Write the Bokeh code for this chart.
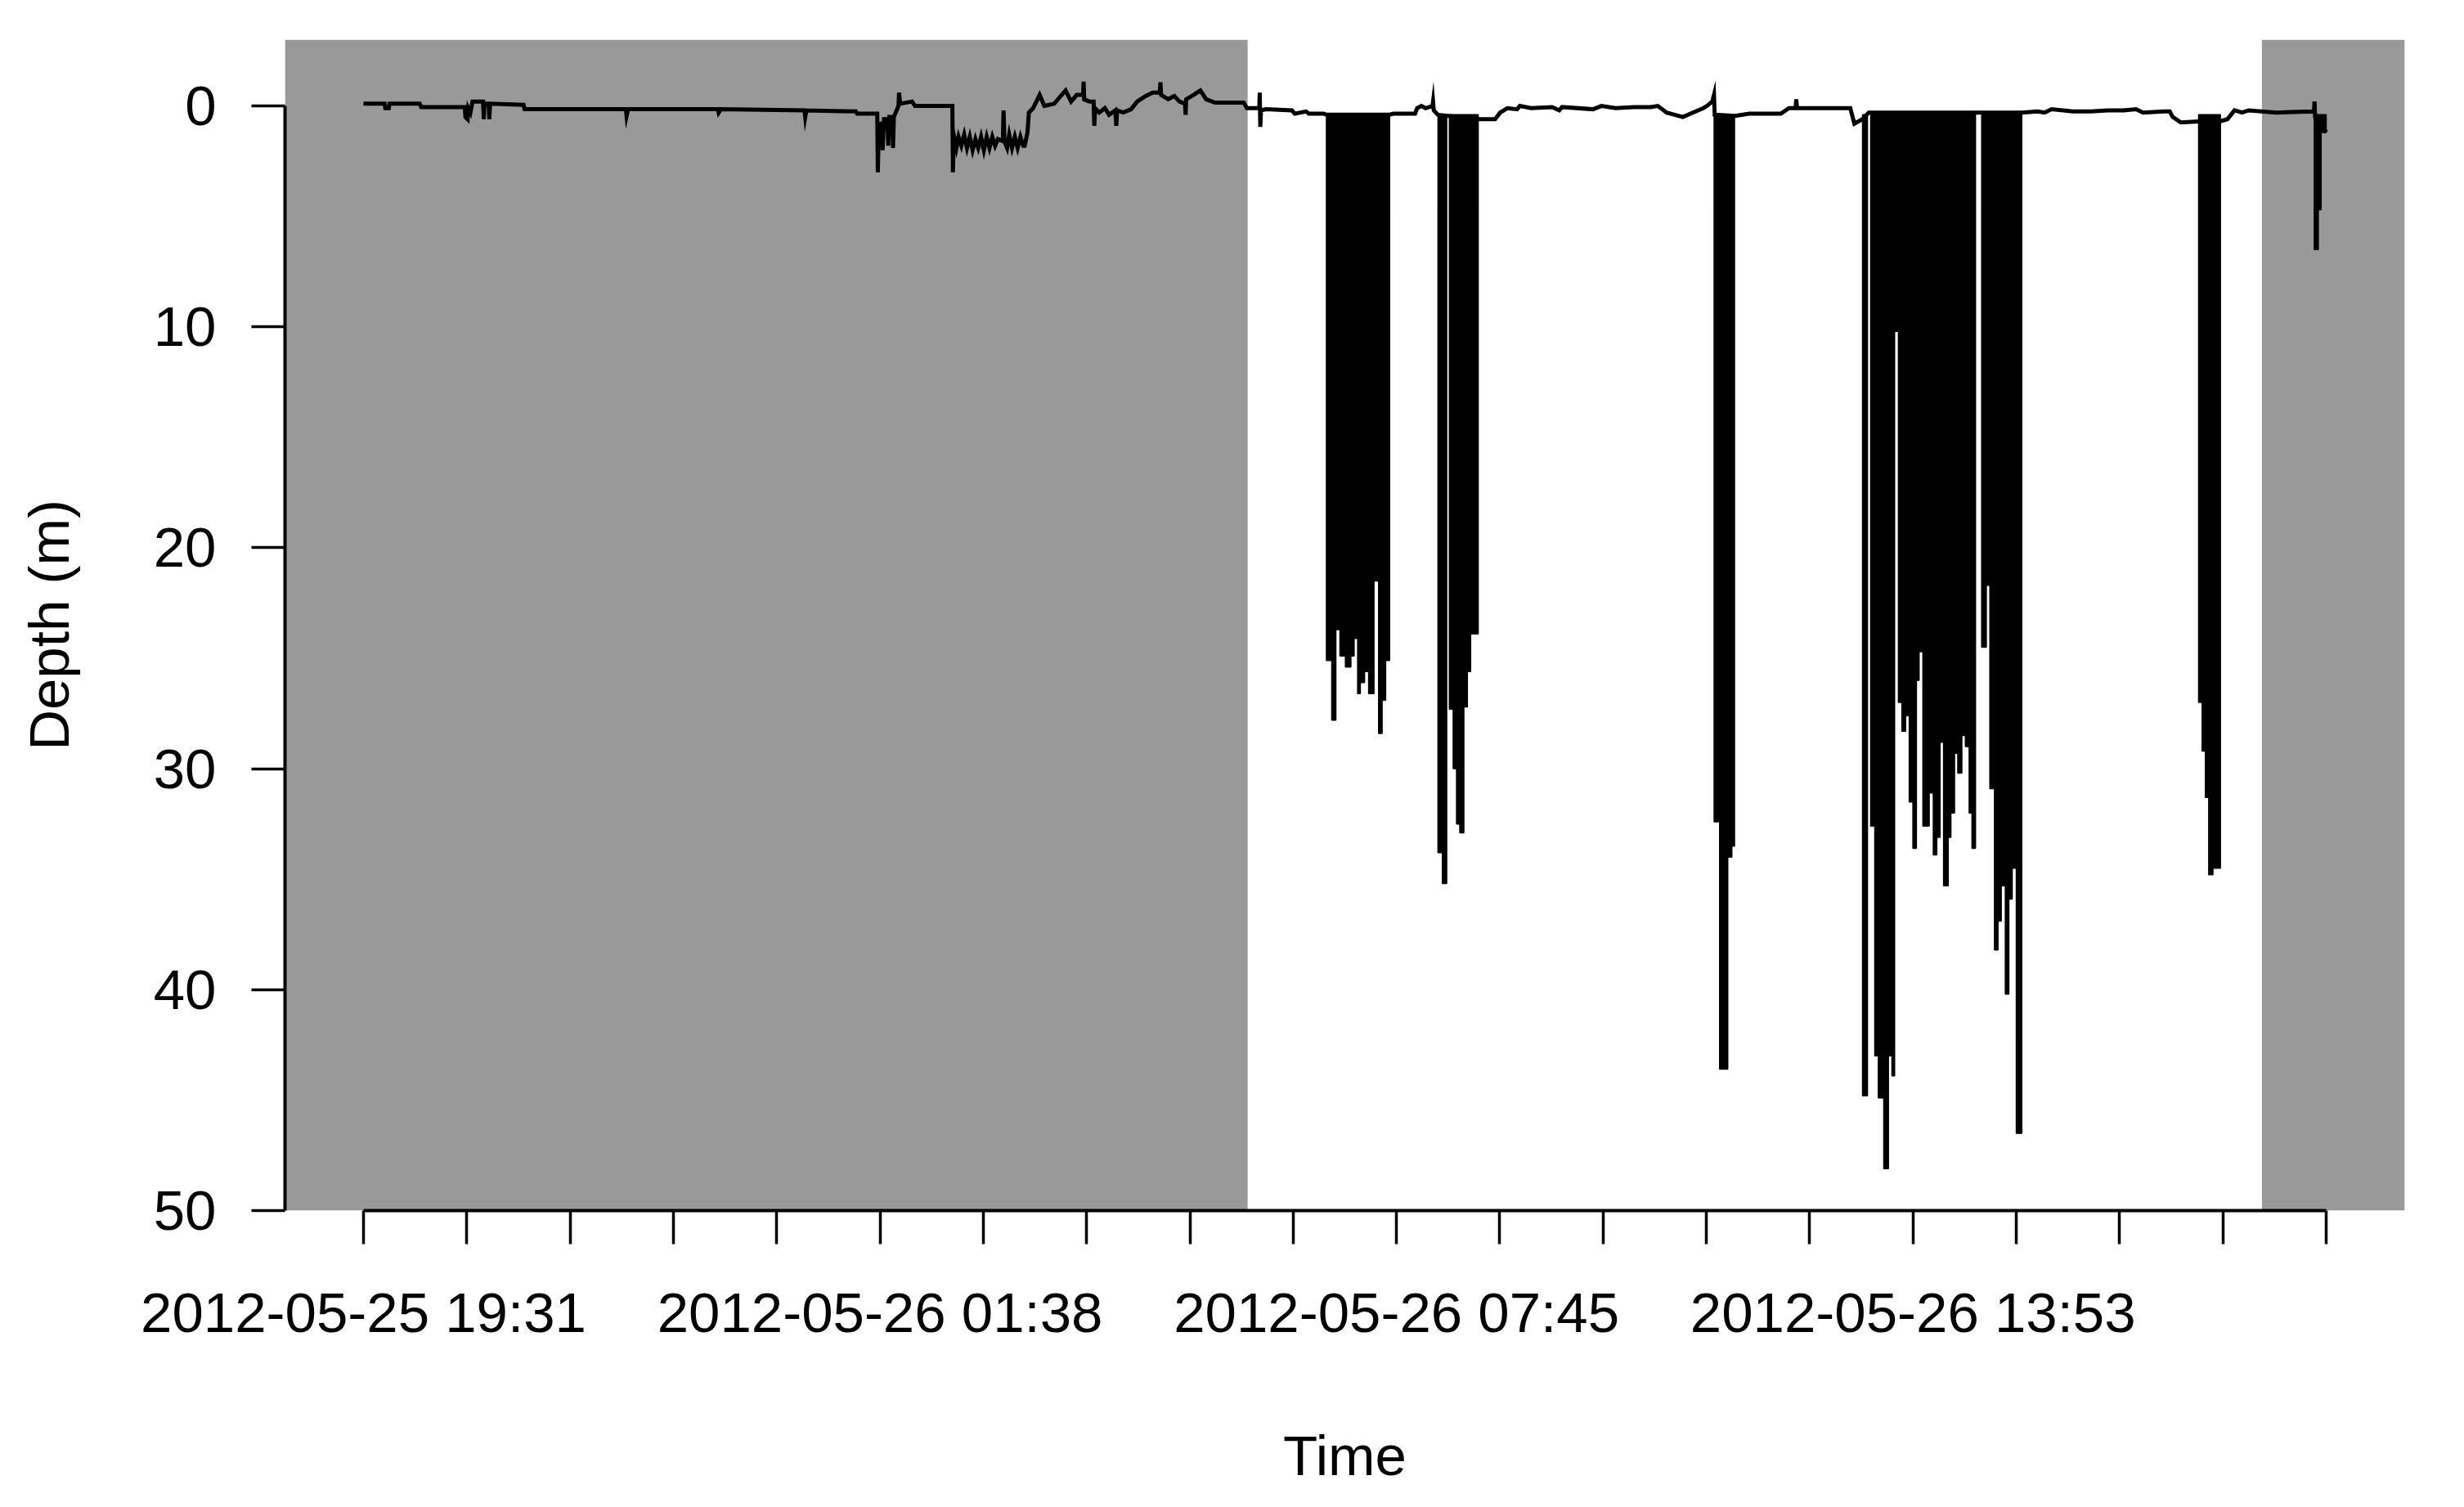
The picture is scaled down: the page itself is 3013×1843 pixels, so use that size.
import pandas as pd
from bokeh.plotting import figure
from bokeh.models import Range1d, FixedTicker, BoxAnnotation, ColumnDataSource
from bokeh.embed import file_html
from bokeh.resources import INLINE

# ---------------- data ----------------
record_start = "2012-05-25 19:31:30"
record_length_min = 1395.2          # minutes of record
sunrise = "2012-05-26 06:00"
sunset = "2012-05-26 18:01"

# shallow / surface part of the depth trace (elapsed minutes, depth m)
surface_min = [
    0.0, 15.0, 15.5, 18.0, 18.5, 40.0, 41.0, 72.0, 72.5, 74.0, 74.5, 76.0, 77.5, 85.0, 85.5,
    86.0, 89.0, 89.4, 90.0, 113.8, 114.5, 186.5, 187.0, 188.0, 252.0, 252.5, 254.0, 313.5,
    314.0, 314.8, 350.0, 351.0, 365.2, 365.6, 366.3, 368.5, 369.0, 370.0, 372.5, 373.0, 373.8,
    376.0, 376.4, 377.0, 380.3, 380.7, 381.5, 390.0, 392.0, 418.6, 419.0, 419.6, 421.5, 423.0,
    425.0, 427.0, 429.0, 431.0, 433.0, 435.0, 437.0, 439.0, 441.0, 443.0, 445.0, 447.0, 449.0,
    451.0, 454.5, 455.0, 455.6, 457.5, 459.0, 461.0, 463.0, 465.0, 467.0, 469.0, 470.0,
    472.0, 473.0, 476.0, 480.6, 484.0, 491.0, 495.0, 499.1, 503.0, 507.0, 511.5, 511.9, 512.3,
    516.0, 519.0, 519.5, 520.0, 523.0, 527.0, 530.0, 534.5, 535.1, 535.7, 540.0, 545.6, 550.0,
    556.0, 561.0, 566.0, 566.5, 567.0, 572.0, 576.3, 580.0, 584.0, 584.4, 584.8, 590.0, 594.9,
    599.0, 605.3, 625.7, 628.0, 636.8, 637.1, 637.5, 638.0, 641.3, 660.0, 662.0, 670.0, 672.0,
    682.5, 684.5, 729.4, 732.0, 747.5, 749.0, 752.0, 755.0, 759.9, 760.3, 760.8, 763.8, 792.4,
    804.4, 808.0, 813.1, 820.0, 822.0, 830.0, 845.0, 850.0, 852.0, 874.0, 880.0, 890.0, 903.1,
    915.0, 920.0, 926.3, 932.0, 937.9, 945.0, 952.4, 955.0, 958.8, 960.0, 960.5, 975.0, 985.0,
    1007.5, 1013.3, 1018.0, 1018.5, 1019.0, 1056.9, 1059.8, 1065.6, 1070.0, 1178.8, 1190.0,
    1195.0, 1200.0, 1215.0, 1228.1, 1240.0, 1251.3, 1260.0, 1265.0, 1280.0, 1284.0, 1286.1,
    1291.9, 1304.6, 1319.7, 1325.0, 1330.0, 1335.4, 1340.0, 1360.0, 1386.5, 1386.9, 1387.3,
    1395.2,
]
surface_depth = [
    -0.1, -0.1, 0.1, 0.1, -0.1, -0.1, 0.05, 0.05, 0.5, 0.6, 0.1, 0.3, -0.2, -0.2, 0.6,
    -0.1, -0.1, 0.6, -0.1, -0.05, 0.15, 0.15, 0.45, 0.15, 0.15, 0.3, 0.15, 0.2,
    0.5, 0.2, 0.25, 0.35, 0.35, 3.0, 0.8, 0.8, 2.0, 0.6, 0.6, 1.8, 0.5,
    0.5, 1.9, 0.5, 0.0, -0.6, -0.1, -0.2, 0.0, 0.0, 3.0, 1.3, 1.9, 1.4,
    1.8, 1.3, 1.9, 1.4, 2.0, 1.5, 1.9, 1.4, 2.0, 1.4, 1.9, 1.4, 1.8,
    1.5, 1.6, 0.2, 1.6, 1.9, 1.3, 1.9, 1.4, 1.9, 1.4, 1.8, 1.8,
    1.2, 0.3, 0.1, -0.5, 0.0, -0.1, -0.4, -0.7, -0.2, -0.5, -0.5, -1.1, -0.3,
    -0.2, -0.2, 0.9, 0.1, 0.3, 0.1, 0.4, 0.2, 0.9, 0.2, 0.3, 0.15, -0.2,
    -0.45, -0.6, -0.6, -1.07, -0.5, -0.3, -0.45, -0.2, -0.1, 0.4, -0.3, -0.5, -0.7,
    -0.3, -0.15, -0.15, 0.1, 0.1, -0.6, 0.95, 0.2, 0.15, 0.2, 0.35, 0.25, 0.35,
    0.35, 0.4, 0.4, 0.35, 0.35, 0.1, 0.0, 0.1, 0.0, -0.2, 0.2, 0.4, 0.6,
    0.6, 0.3, 0.1, 0.15, 0.0, 0.1, 0.05, 0.2, 0.05, 0.15, 0.0, 0.1, 0.05,
    0.05, 0.0, 0.3, 0.4, 0.5, 0.3, 0.1, 0.0, -0.2, -0.5, 0.4, 0.45, 0.35,
    0.35, 0.1, 0.1, -0.3, 0.1, 0.1, 0.8, 0.6, 0.3, 0.3, 0.25,
    0.3, 0.15, 0.25, 0.25, 0.2, 0.2, 0.15, 0.3, 0.25, 0.25, 0.5,
    0.75, 0.7, 0.7, 0.6, 0.2, 0.3, 0.2, 0.3, 0.25, -0.2, 0.5,
    1.2,
]

# dive bouts: edges of consecutive dives (elapsed minutes) and their maximum depths (m)
bout1_edges = [684.5, 688.3, 691.2, 694.1, 698.0, 701.9, 704.2, 706.7, 708.6, 711.6, 714.5,
               718.3, 721.6, 724.1, 726.6, 729.4]
bout1_depth = [25.1, 27.8, 23.7, 24.9, 25.4, 24.9, 24.1, 26.6, 26.1, 25.6, 26.6, 21.5, 28.4,
               26.9, 25.1]
bout2_edges = [763.8, 766.9, 770.0]
bout2_depth = [33.8, 35.2]
bout3_edges = [771.9, 774.6, 777.0, 779.3, 782.2, 784.7, 787.0, 792.4]
bout3_depth = [27.3, 30.0, 32.5, 32.9, 27.2, 25.6, 23.9]
bout4_edges = [960.1, 964.0, 969.8, 972.7, 974.6]
bout4_depth = [32.4, 43.6, 34.0, 33.5]
bout5_edges = [1065.6, 1069.1]
bout5_depth = [44.8]
bout6_edges = [1071.4, 1074.3, 1076.8, 1080.7, 1084.0, 1086.5, 1088.4, 1091.1, 1093.6, 1096.2,
               1098.8, 1101.4, 1103.9, 1105.8, 1108.5, 1113.0, 1115.9, 1118.4, 1120.7, 1123.2,
               1126.5, 1128.4, 1131.0, 1133.3, 1136.2, 1138.7, 1141.4, 1143.4, 1145.9]
bout6_depth = [32.6, 43.0, 44.9, 48.1, 43.0, 43.9, 10.2, 27.0, 28.3, 27.6, 31.5, 33.6, 26.0,
               24.7, 32.6, 31.1, 33.9, 33.1, 28.8, 35.3, 33.1, 32.0, 29.3, 30.2, 28.5, 29.0,
               32.0, 33.6]
bout7_edges = [1150.3, 1153.6, 1156.1, 1159.4, 1161.9, 1164.2, 1167.1, 1169.6, 1172.0, 1174.9,
               1178.8]
bout7_depth = [24.5, 21.7, 30.9, 38.2, 36.9, 35.3, 40.2, 35.9, 34.5, 46.5]
bout8_edges = [1304.5, 1307.0, 1309.3, 1311.7, 1314.7, 1320.0]
bout8_depth = [27.0, 29.2, 31.3, 34.8, 34.5]
bout9_edges = [1386.7, 1389.6, 1391.6, 1395.2]
bout9_depth = [6.5, 4.7, 1.2]
surface_level = 0.4

tick_labels = ["2012-05-25 19:31", "", "", "", "",
               "2012-05-26 01:38", "", "", "", "",
               "2012-05-26 07:45", "", "", "", "",
               "2012-05-26 13:53", "", "", "", ""]
depth_ticks = [0, 10, 20, 30, 40, 50]

# ---------------- build ----------------
t0_ms = pd.Timestamp(record_start).value / 1e6


def to_ms(mins):
    return [t0_ms + m * 60000.0 for m in mins]


bouts = [(bout1_edges, bout1_depth), (bout2_edges, bout2_depth), (bout3_edges, bout3_depth),
         (bout4_edges, bout4_depth), (bout5_edges, bout5_depth), (bout6_edges, bout6_depth),
         (bout7_edges, bout7_depth), (bout8_edges, bout8_depth), (bout9_edges, bout9_depth)]
d_left, d_right, d_depth = [], [], []
for edges, depths in bouts:
    d_left += edges[:-1]
    d_right += edges[1:]
    d_depth += depths

span_ms = record_length_min * 60000.0
n_ticks = len(tick_labels)
tick_ms = [int(round(t0_ms + k * span_ms / (n_ticks - 1))) for k in range(n_ticks)]

FONT = "Liberation Sans"
FS = "69px"

p = figure(width=2997, height=1827, output_backend="svg", toolbar_location=None,
           x_range=Range1d(t0_ms - 0.04 * span_ms, t0_ms + 1.04 * span_ms),
           y_range=Range1d(50, -3),
           min_border_left=348, min_border_right=57, min_border_top=48, min_border_bottom=347)
p.outline_line_color = None
p.grid.visible = False
p.background_fill_color = "white"
p.border_fill_color = "white"

night_color = "#999999"
p.add_layout(BoxAnnotation(right=pd.Timestamp(sunrise).value / 1e6, fill_color=night_color,
                           fill_alpha=1.0, line_color=None, level="underlay"))
p.add_layout(BoxAnnotation(left=pd.Timestamp(sunset).value / 1e6, fill_color=night_color,
                           fill_alpha=1.0, line_color=None, level="underlay"))

dive_src = ColumnDataSource(dict(left=to_ms(d_left), right=to_ms(d_right),
                                 bottom=d_depth, top=[surface_level] * len(d_depth)))
p.quad(left="left", right="right", top="top", bottom="bottom", source=dive_src,
       fill_color="black", line_color="black", line_width=1.5)

p.line(to_ms(surface_min), surface_depth, line_color="black", line_width=5,
       line_join="miter")

xa = p.xaxis[0]
xa.ticker = FixedTicker(ticks=tick_ms)
xa.major_label_overrides = {t: lab for t, lab in zip(tick_ms, tick_labels)}
xa.bounds = (tick_ms[0], tick_ms[-1])
xa.axis_label = "Time"
xa.axis_label_standoff = 95

ya = p.yaxis[0]
ya.ticker = FixedTicker(ticks=depth_ticks)
ya.bounds = (depth_ticks[0], depth_ticks[-1])
ya.axis_label = "Depth (m)"
ya.axis_label_standoff = 86

for ax in (xa, ya):
    ax.axis_line_width = 4
    ax.axis_line_color = "black"
    ax.major_tick_line_width = 3.5
    ax.major_tick_line_color = "black"
    ax.major_tick_out = 41
    ax.major_tick_in = 0
    ax.minor_tick_line_color = None
    ax.major_label_text_font = FONT
    ax.major_label_text_font_size = FS
    ax.major_label_text_color = "black"
    ax.major_label_standoff = 45
    ax.axis_label_text_font = FONT
    ax.axis_label_text_font_size = FS
    ax.axis_label_text_font_style = "normal"
    ax.axis_label_text_color = "black"
ya.major_label_standoff = 43

open("out.html", "w").write(file_html(p, INLINE))
